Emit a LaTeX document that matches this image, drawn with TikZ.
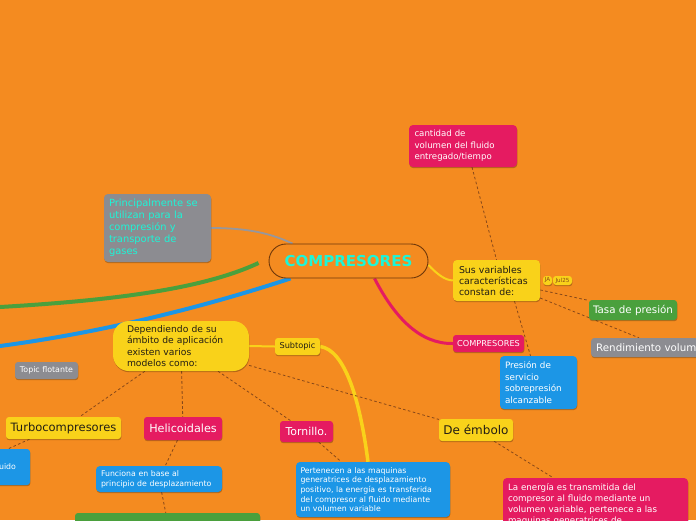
\documentclass[tikz,border=0pt]{standalone}
\usepackage{fontspec}
\setmainfont{DejaVu Sans}
\usetikzlibrary{shadows}
\definecolor{bgc}{RGB}{244,139,32}
\definecolor{pinkc}{RGB}{229,27,97}
\definecolor{yelc}{RGB}{249,210,26}
\definecolor{bluec}{RGB}{28,150,230}
\definecolor{greenc}{RGB}{74,160,61}
\definecolor{grayc}{RGB}{140,140,145}
\definecolor{cyanc}{RGB}{29,245,215}
\definecolor{brownc}{RGB}{110,55,10}
\definecolor{dashc}{RGB}{135,72,25}
\definecolor{darktxt}{RGB}{35,30,20}
\pgfdeclarelayer{bglayer}
\pgfdeclarelayer{background}
\pgfsetlayers{bglayer,background,main}
\begin{document}
\begin{tikzpicture}[x=1pt,y=-1pt,
  box/.style={rounded corners=4pt, inner ysep=1pt, align=left,
    drop shadow={shadow xshift=0.4pt, shadow yshift=-1.2pt, opacity=0.25, fill=black}},
  sbox/.style={rounded corners=3pt, inner sep=0pt, align=center,
    drop shadow={shadow xshift=0.4pt, shadow yshift=-1.2pt, opacity=0.25, fill=black}},
  pinkb/.style={fill=pinkc, text=white},
  yelb/.style={fill=yelc, text=darktxt},
  blueb/.style={fill=bluec, text=white},
  greenb/.style={fill=greenc, text=white},
  grayb/.style={fill=grayc, text=white},
  fs/.style={font=\fontsize{#1}{#1}\selectfont},
  dline/.style={draw=dashc, line width=0.8pt, dash pattern=on 2.6pt off 2.4pt},
  ctr/.style={draw=brownc, line width=0.9pt, fill=bgc, rounded corners=17pt,
    minimum width=159, minimum height=34, inner sep=0pt, text=cyanc,
    font=\fontsize{15}{18}\selectfont\bfseries}
]
\begin{pgfonlayer}{bglayer}
\fill[bgc] (0,0) rectangle (696,520);
\end{pgfonlayer}
\useasboundingbox (0,0) rectangle (696,520);
\clip (0,0) rectangle (696,520);

% central
\node[ctr] (cent) at (348.5,261) {COMPRESORES};

% boxes
\node[box, fill=grayc, text=cyanc, font=\fontsize{9.9}{12}\selectfont, inner xsep=5, text width=97, minimum height=68] (use) at (157.5,228)
  {Principalmente se\\utilizan para la\\compresión y\\transporte de\\gases};
\node[box, pinkb, font=\fontsize{8.6}{11.5}\selectfont, inner xsep=5.5, text width=97, minimum height=42] (cant) at (463,146)
  {cantidad de\\volumen del fluido\\entregado/tiempo};
\node[box, yelb, font=\fontsize{9.4}{11}\selectfont, inner xsep=6, text width=75, minimum height=41] (sus) at (496.5,280.5)
  {Sus variables\\características\\constan de:};
\node[sbox, fill=yelc, text=dashc, font=\fontsize{5.6}{7}\selectfont, minimum width=9, minimum height=9] (ja) at (547.5,280.5) {JA};
\node[sbox, fill=yelc, text=dashc, font=\fontsize{5.6}{7}\selectfont, minimum width=19, minimum height=9] (jul) at (562.5,280.5) {Jul25};
\node[sbox, greenb, font=\fontsize{10.3}{12}\selectfont, minimum width=88, minimum height=20] (tasa) at (633,310) {Tasa de presión};
\node[sbox, grayb, font=\fontsize{10.3}{12}\selectfont, minimum height=19, inner xsep=5, anchor=west] (rend) at (591,347.5) {Rendimiento volumétrico};
\node[sbox, pinkb, font=\fontsize{8.2}{10}\selectfont, minimum width=71, minimum height=17] (comp2) at (488.5,343.5) {COMPRESORES};
\node[box, blueb, font=\fontsize{8.8}{11.5}\selectfont, inner xsep=5, text width=67, minimum height=53] (pres) at (538.5,382.5)
  {Presión de\\servicio\\sobrepresión\\alcanzable};
\node[box, yelb, font=\fontsize{9.2}{11.6}\selectfont, rounded corners=16pt, inner xsep=14, text width=108, minimum height=50] (dep) at (181,346)
  {Dependiendo de su\\ámbito de aplicación\\existen varios\\modelos como:};
\node[sbox, yelb, font=\fontsize{8.2}{10}\selectfont, minimum width=45, minimum height=17] (subt) at (297.5,346.5) {Subtopic};
\node[sbox, grayb, font=\fontsize{7.9}{10}\selectfont, minimum width=63, minimum height=17] (topic) at (46.5,370.5) {Topic flotante};
\node[sbox, yelb, font=\fontsize{11.5}{14}\selectfont, minimum width=115, minimum height=22] (turbo) at (63.5,428) {Turbocompresores};
\node[sbox, blueb, minimum width=100, minimum height=36] (flu) at (-20,467) {};
\node[anchor=west, inner sep=0pt, text=white, font=\fontsize{7.8}{10}\selectfont] (flut) at (-6,467) {fluido};
\node[sbox, pinkb, font=\fontsize{11.2}{14}\selectfont, minimum width=78, minimum height=23] (heli) at (183,428.5) {Helicoidales};
\node[box, blueb, font=\fontsize{7.8}{10}\selectfont, inner xsep=5, text width=116, minimum height=26] (func) at (159,479)
  {Funciona en base al\\principio de desplazamiento};
\node[sbox, greenb, minimum width=185, minimum height=17] (gbot) at (167.5,521.5) {};
\node[sbox, pinkb, font=\fontsize{10.9}{13}\selectfont, minimum width=53, minimum height=21] (torn) at (306.5,431.5) {Tornillo.};
\node[box, blueb, font=\fontsize{7.8}{9.6}\selectfont, inner xsep=4.5, text width=145, minimum height=55] (pert) at (373,489.5)
  {Pertenecen a las maquinas\\generatrices de desplazamiento\\positivo, la energía es transferida\\del compresor al fluido mediante\\un volumen variable};
\node[sbox, yelb, font=\fontsize{12}{14}\selectfont, minimum width=74, minimum height=22] (demb) at (476,430) {De émbolo};
\node[box, pinkb, font=\fontsize{8.7}{11}\selectfont, inner xsep=5, text width=175, minimum height=52] (energ) at (595.5,504)
  {La energía es transmitida del\\compresor al fluido mediante un\\volumen variable, pertenece a las\\maquinas generatrices de};

\begin{pgfonlayer}{background}
% main branches
\draw[grayc!90!white, line width=1.8pt] (use.east) .. controls (250,228) and (272,234) .. ([xshift=-56pt]cent.north);
\draw[greenc, line width=4pt] (0,307) .. controls (120,300) and (205,288) .. ([xshift=-10pt,yshift=-2pt]cent.west);
\draw[bluec, line width=4pt] (0,346) .. controls (120,330) and (225,300) .. ([xshift=-58pt]cent.south);
\draw[pinkc, line width=3pt] ([xshift=26pt]cent.south) .. controls (395,318) and (420,344) .. (comp2.west);
\draw[yelc, line width=2pt] ([yshift=-4pt]cent.east) .. controls (438,275) and (445,280) .. (sus.west);
\draw[yelc, line width=2pt] (dep.east) -- (subt.west);
\draw[yelc, line width=3.5pt] (subt.east) .. controls (345,350) and (360,400) .. ([xshift=-5pt]pert.north);
% dashed
\draw[dline] ([xshift=9pt]cant.south) -- (sus.north);
\draw[dline] ([xshift=18pt]sus.south) -- ([xshift=-8pt]pres.north);
\draw[dline] (sus) -- (tasa);
\draw[dline] (sus) -- ([xshift=-22pt]rend.north);
\draw[dline] (dep) -- (turbo);
\draw[dline] ([xshift=-34pt]turbo.south) -- ([xshift=-22pt]flu.north east);
\draw[dline] (dep) -- (heli);
\draw[dline] (heli) -- (func);
\draw[dline] (func) -- (gbot);
\draw[dline] (dep) -- (torn);
\draw[dline] (torn) -- (pert);
\draw[dline] (dep) -- (demb);
\draw[dline] (demb) -- (energ);
\end{pgfonlayer}
\end{tikzpicture}
\end{document}
